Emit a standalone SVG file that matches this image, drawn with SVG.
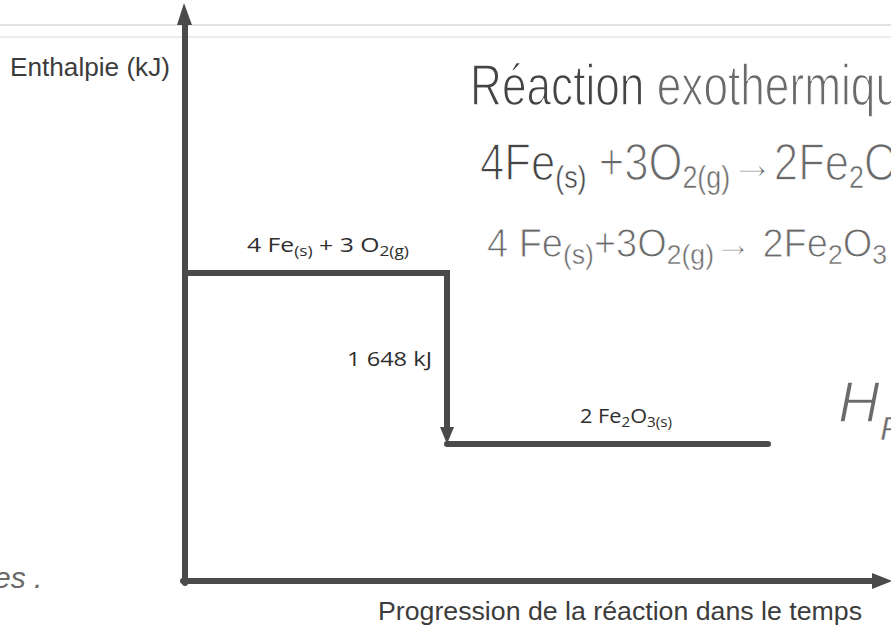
<svg xmlns="http://www.w3.org/2000/svg" width="891" height="629" viewBox="0 0 891 629">
  <style>
    .axis { stroke: #4a4a4a; stroke-width: 6; fill: none; stroke-linecap: round; }
    .head { fill: #4a4a4a; }
    .ax { font-family: "Liberation Sans", Arial, sans-serif; fill: #3c3c3c; }
    .lbl { font-family: "Open Sans", "Liberation Sans", sans-serif; fill: #2e2e2e; }
    .hw { font-family: "Liberation Sans", "DejaVu Sans", sans-serif; fill: #6a6a6a; stroke: #ffffff; stroke-width: 1.4; }
    .hwd { fill: #444444; }
    .sub { stroke-width: 0.5; }
  </style>
  <rect x="0" y="0" width="891" height="629" fill="#ffffff"/>
  <!-- faint ruled lines -->
  <line x1="0" y1="25" x2="891" y2="25" stroke="#e2e2e2" stroke-width="2"/>
  <line x1="0" y1="37" x2="891" y2="37" stroke="#ececec" stroke-width="2"/>

  <g id="axes">
    <line class="axis" x1="185" y1="583" x2="185" y2="20"/>
    <polygon class="head" points="184,3 177,25 192,25"/>
    <line class="axis" x1="183" y1="581" x2="874" y2="581"/>
    <polygon class="head" points="892,581 872,573 872,589"/>
    <text class="ax" x="10" y="76" font-size="25" textLength="160" lengthAdjust="spacingAndGlyphs">Enthalpie (kJ)</text>
    <text class="ax" x="378" y="620" font-size="26" textLength="484" lengthAdjust="spacingAndGlyphs">Progression de la réaction dans le temps</text>
  </g>

  <g id="connectors">
    <path class="axis" d="M185,273 H447 V430"/>
    <polygon class="head" points="447,444 440,427 454,427"/>
    <text class="lbl" x="347" y="366" font-size="20" textLength="85" lengthAdjust="spacingAndGlyphs">1 648 kJ</text>
  </g>

  <g id="reactants">
    <text class="lbl" x="247" y="252" font-size="20" textLength="162" lengthAdjust="spacingAndGlyphs">4 Fe<tspan font-size="14" dy="4">(s)</tspan><tspan dy="-4">  +  3 O</tspan><tspan font-size="14" dy="4">2(g)</tspan></text>
  </g>

  <g id="products">
    <path class="axis" d="M447,444 H768"/>
    <text class="lbl" x="580" y="423" font-size="20" textLength="92" lengthAdjust="spacingAndGlyphs">2 Fe<tspan font-size="14" dy="4">2</tspan><tspan dy="-4">O</tspan><tspan font-size="14" dy="4">3(s)</tspan></text>
  </g>

  <g id="handwriting">
    <text class="hw" x="470" y="105" font-size="58" textLength="430" lengthAdjust="spacingAndGlyphs"><tspan class="hwd">Réaction</tspan> exothermiqu</text>
    <text class="hw" x="480" y="180" font-size="52" textLength="418" lengthAdjust="spacingAndGlyphs"><tspan class="hwd">4Fe</tspan><tspan class="hwd sub" font-size="32" dy="8">(s)</tspan><tspan dy="-8"> +3O</tspan><tspan class="sub" font-size="32" dy="8">2(g)</tspan><tspan dy="-8">→2Fe</tspan><tspan class="sub" font-size="32" dy="8">2</tspan><tspan dy="-8">O</tspan></text>
    <text class="hw" x="487" y="257" font-size="40" style="stroke-width:1" textLength="400" lengthAdjust="spacingAndGlyphs">4 Fe<tspan class="sub" font-size="28" dy="7">(s)</tspan><tspan dy="-7">+3O</tspan><tspan class="sub" font-size="28" dy="7">2(g)</tspan><tspan dy="-7">→ 2Fe</tspan><tspan class="sub" font-size="28" dy="7">2</tspan><tspan dy="-7">O</tspan><tspan class="sub" font-size="28" dy="7">3</tspan></text>
    <text class="hw" x="838" y="422" font-size="58" font-style="italic">H<tspan class="sub" font-size="34" dy="18">R</tspan></text>
    <text class="hw" x="-6" y="588" font-size="30" style="stroke-width:0" font-style="italic">es .</text>
  </g>
</svg>
